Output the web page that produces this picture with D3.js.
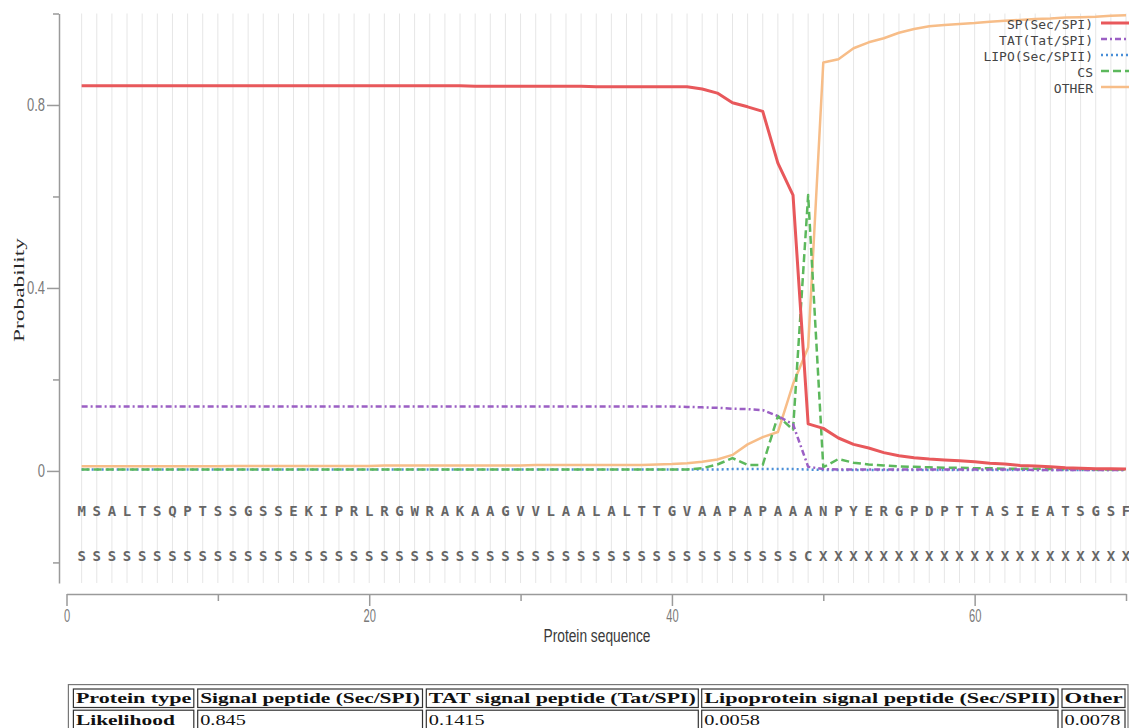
<!DOCTYPE html>
<html>
<head>
<meta charset="utf-8">
<script src="https://cdn.jsdelivr.net/npm/d3@7"></script>
<style>
  html, body { margin: 0; padding: 0; background: #fff; }
  svg { display: block; }
</style>
</head>
<body>
<svg id="chart" width="1129" height="728"></svg>
<script>
// ---------------- DATA ----------------
const sequence = "MSALTSQPTSSGSSEKIPRLRGWRAKAAGVVLAALALTTGVAAPAPAAANPYERGPDPTTASIEATSGSF".split("");
const prediction = ("SSSSSSSSSS" + "SSSSSSSSSS" + "SSSSSSSSSS" + "SSSSSSSSSS" +
                    "SSSSSSSSCX" + "XXXXXXXXXX" + "XXXXXXXXXX").split("");

const spValues = [
  0.842,0.842,0.842,0.842,0.842,0.842,0.842,0.842,0.842,0.842,
  0.842,0.842,0.842,0.842,0.842,0.842,0.842,0.842,0.842,0.842,
  0.842,0.842,0.842,0.842,0.842,0.842,0.841,0.841,0.841,0.841,
  0.841,0.841,0.841,0.841,0.840,0.840,0.840,0.840,0.840,0.840,
  0.840,0.835,0.826,0.805,0.796,0.786,0.673,0.603,0.103,0.093,
  0.072,0.058,0.050,0.040,0.033,0.029,0.026,0.024,0.022,0.020,
  0.017,0.015,0.012,0.011,0.009,0.007,0.006,0.005,0.005,0.004];

const tatValues = [
  0.141,0.141,0.141,0.141,0.141,0.141,0.141,0.141,0.141,0.141,
  0.141,0.141,0.141,0.141,0.141,0.141,0.141,0.141,0.141,0.141,
  0.141,0.141,0.141,0.141,0.141,0.141,0.141,0.141,0.141,0.141,
  0.141,0.141,0.141,0.141,0.141,0.141,0.141,0.141,0.141,0.141,
  0.140,0.139,0.138,0.136,0.135,0.133,0.120,0.102,0.009,0.004,
  0.003,0.003,0.003,0.003,0.003,0.003,0.003,0.003,0.003,0.003,
  0.003,0.003,0.003,0.002,0.002,0.002,0.002,0.002,0.002,0.002];

const lipoValues = [
  0.003,0.003,0.003,0.003,0.003,0.003,0.003,0.003,0.003,0.003,
  0.003,0.003,0.003,0.003,0.003,0.003,0.003,0.003,0.003,0.003,
  0.003,0.003,0.003,0.003,0.003,0.003,0.003,0.003,0.003,0.003,
  0.003,0.003,0.003,0.003,0.003,0.003,0.003,0.003,0.003,0.003,
  0.003,0.003,0.003,0.004,0.004,0.004,0.004,0.004,0.003,0.002,
  0.002,0.002,0.002,0.002,0.002,0.002,0.002,0.002,0.002,0.002,
  0.002,0.002,0.002,0.002,0.002,0.002,0.002,0.002,0.002,0.002];

const csValues = [
  0.003,0.003,0.003,0.003,0.003,0.003,0.003,0.003,0.003,0.003,
  0.003,0.003,0.003,0.003,0.003,0.003,0.003,0.003,0.003,0.003,
  0.003,0.003,0.003,0.003,0.003,0.003,0.003,0.003,0.003,0.003,
  0.003,0.003,0.003,0.003,0.003,0.003,0.003,0.003,0.003,0.003,
  0.003,0.006,0.014,0.028,0.013,0.013,0.120,0.090,0.603,0.008,
  0.026,0.018,0.014,0.012,0.010,0.009,0.008,0.007,0.007,0.006,
  0.006,0.005,0.005,0.005,0.004,0.004,0.004,0.003,0.003,0.003];

const otherValues = [
  0.010,0.010,0.010,0.010,0.010,0.010,0.010,0.010,0.010,0.010,
  0.011,0.011,0.011,0.011,0.011,0.011,0.011,0.011,0.011,0.011,
  0.012,0.012,0.012,0.012,0.012,0.012,0.012,0.012,0.012,0.012,
  0.013,0.013,0.013,0.013,0.013,0.013,0.013,0.013,0.014,0.015,
  0.017,0.020,0.025,0.035,0.058,0.074,0.085,0.190,0.270,0.893,
  0.900,0.924,0.937,0.946,0.958,0.966,0.972,0.975,0.977,0.979,
  0.982,0.984,0.986,0.988,0.989,0.991,0.992,0.993,0.995,0.996];

const seriesNames = ["SP(Sec/SPI)", "TAT(Tat/SPI)", "LIPO(Sec/SPII)", "CS", "OTHER"];

const xTicks = [0, 10, 20, 30, 40, 50, 60, 70];
const xTickLabels = ["0", "", "20", "", "40", "", "60", ""];
const yTicks = [-0.2, 0, 0.2, 0.4, 0.6, 0.8, 1.0];
const yTickLabels = ["", "0", "", "0.4", "", "0.8", ""];

const tableHeader = ["Protein type", "Signal peptide (Sec/SPI)", "TAT signal peptide (Tat/SPI)",
                     "Lipoprotein signal peptide (Sec/SPII)", "Other"];
const tableRow = ["Likelihood", "0.845", "0.1415", "0.0058", "0.0078"];

// ---------------- STYLES ----------------
const styles = [
  { values: spValues,    color: "#e8585b", width: 3,   dash: null },
  { values: tatValues,   color: "#9b5fc4", width: 2.5, dash: "6,3,2,3" },
  { values: lipoValues,  color: "#4a8fd8", width: 2.5, dash: "2,3" },
  { values: csValues,    color: "#5cb85c", width: 2.5, dash: "8,4" },
  { values: otherValues, color: "#f7bd88", width: 2.5, dash: null }
];
const drawOrder = [4, 2, 3, 1, 0];

// ---------------- SCALES ----------------
const svg = d3.select("#chart");
const x = d3.scaleLinear().domain([0, 70]).range([66.5, 1126]);
const y = d3.scaleLinear().domain([-0.245, 1.0]).range([583, 13.5]);

// grid lines at each residue
svg.append("g").selectAll("line")
  .data(sequence.map((d, i) => i + 1))
  .join("line")
  .attr("x1", d => x(d)).attr("x2", d => x(d))
  .attr("y1", y(1.0)).attr("y2", y(-0.245))
  .attr("stroke", "#e6e6e6").attr("stroke-width", 1);

// y axis
const yAxisG = svg.append("g").attr("transform", "translate(59,0)")
  .call(d3.axisLeft(y).tickValues(yTicks).tickSize(12).tickSizeOuter(0)
        .tickFormat((d, i) => yTickLabels[i]));
yAxisG.select(".domain").attr("stroke", "#9a9a9a").attr("stroke-width", 1.5);
yAxisG.selectAll(".tick line").attr("stroke", "#9a9a9a").attr("stroke-width", 1.5)
  .attr("x2", (d, i) => yTickLabels[i] ? -12 : -6);
yAxisG.selectAll(".tick text")
  .attr("font-family", "'Liberation Sans', Arial, sans-serif")
  .attr("font-size", 18).attr("fill", "#7a7a7a")
  .attr("x", -14 / 0.72)
  .attr("transform", "scale(0.72,1)");

// x axis
const xAxisG = svg.append("g").attr("transform", "translate(0,594)")
  .call(d3.axisBottom(x).tickValues(xTicks).tickSize(12).tickSizeOuter(0)
        .tickFormat((d, i) => xTickLabels[i]));
xAxisG.select(".domain").attr("stroke", "#9a9a9a").attr("stroke-width", 1.5);
xAxisG.selectAll(".tick line").attr("stroke", "#9a9a9a").attr("stroke-width", 1.5)
  .attr("y2", (d, i) => xTickLabels[i] ? 12 : 7);
xAxisG.selectAll(".tick text")
  .attr("font-family", "'Liberation Sans', Arial, sans-serif")
  .attr("font-size", 18).attr("fill", "#7a7a7a")
  .attr("y", 15).attr("dy", "0.71em")
  .attr("transform", "scale(0.62,1)");

// axis titles
svg.append("text")
  .attr("transform", "translate(24,290) rotate(-90) scale(1,0.66)")
  .attr("text-anchor", "middle")
  .attr("font-family", "'Liberation Serif', 'Times New Roman', serif")
  .attr("font-size", 22).attr("fill", "#2a2a2a")
  .attr("textLength", 104).attr("lengthAdjust", "spacingAndGlyphs")
  .text("Probability");

svg.append("text")
  .attr("x", 597).attr("y", 642)
  .attr("text-anchor", "middle")
  .attr("font-family", "'Liberation Sans', Arial, sans-serif")
  .attr("font-size", 18).attr("fill", "#3a3a3a")
  .attr("textLength", 107).attr("lengthAdjust", "spacingAndGlyphs")
  .text("Protein sequence");

// sequence rows
svg.append("g").selectAll("text")
  .data(sequence)
  .join("text")
  .attr("x", (d, i) => x(i + 1)).attr("y", y(-0.1) - 1)
  .attr("text-anchor", "middle")
  .attr("font-family", "'DejaVu Sans Mono', monospace")
  .attr("font-weight", "bold")
  .attr("font-size", 14).attr("fill", "#666")
  .text(d => d);

svg.append("g").selectAll("text")
  .data(prediction)
  .join("text")
  .attr("x", (d, i) => x(i + 1)).attr("y", y(-0.2) - 1)
  .attr("text-anchor", "middle")
  .attr("font-family", "'DejaVu Sans Mono', monospace")
  .attr("font-weight", "bold")
  .attr("font-size", 14).attr("fill", "#666")
  .text(d => d);

// lines
const line = d3.line().x((d, i) => x(i + 1)).y(d => y(d));
const linesG = svg.append("g");
drawOrder.forEach(k => {
  const s = styles[k];
  linesG.append("path")
    .datum(s.values)
    .attr("d", line)
    .attr("fill", "none")
    .attr("stroke", s.color)
    .attr("stroke-width", s.width)
    .attr("stroke-linejoin", "round")
    .attr("stroke-dasharray", s.dash);
});

// legend
const legend = svg.append("g");
seriesNames.forEach((name, i) => {
  const cy = 24 + i * 16;
  legend.append("text")
    .attr("x", 1093).attr("y", cy + 4.5)
    .attr("text-anchor", "end")
    .attr("font-family", "'DejaVu Sans Mono', monospace")
    .attr("font-size", 13).attr("fill", "#444")
    .text(name);
  legend.append("line")
    .attr("x1", 1101).attr("x2", 1129)
    .attr("y1", cy - 1).attr("y2", cy - 1)
    .attr("stroke", styles[i].color)
    .attr("stroke-width", styles[i].width)
    .attr("stroke-dasharray", styles[i].dash);
});

// table
const cols = [[73.4, 193.8], [197.7, 422.5], [426.3, 698.3], [701.7, 1058], [1062, 1125]];
const rows = [[689, 707.5], [710.2, 732]];
const tableG = svg.append("g");
tableG.append("rect")
  .attr("x", 68.4).attr("y", 684.6).attr("width", 1128 - 68.4).attr("height", 60)
  .attr("fill", "none").attr("stroke", "#777").attr("stroke-width", 1.2);
rows.forEach((r, ri) => {
  cols.forEach((c, ci) => {
    tableG.append("rect")
      .attr("x", c[0]).attr("y", r[0]).attr("width", c[1] - c[0]).attr("height", r[1] - r[0])
      .attr("fill", "none").attr("stroke", "#333").attr("stroke-width", 1.2);
  });
});
tableHeader.forEach((t, ci) => {
  tableG.append("text")
    .attr("x", cols[ci][0] + 2.5).attr("y", 702.5)
    .attr("font-family", "'Liberation Serif', 'Times New Roman', serif")
    .attr("font-weight", "bold").attr("font-size", 15).attr("fill", "#111")
    .attr("textLength", cols[ci][1] - cols[ci][0] - 5).attr("lengthAdjust", "spacingAndGlyphs")
    .text(t);
});
tableRow.forEach((t, ci) => {
  tableG.append("text")
    .attr("transform", `translate(${cols[ci][0] + 2.5},724.5) scale(${ci === 0 ? 1.43 : 1.4},1)`)
    .attr("font-family", "'Liberation Serif', 'Times New Roman', serif")
    .attr("font-weight", ci === 0 ? "bold" : "normal")
    .attr("font-size", ci === 0 ? 15 : 14.5).attr("fill", "#111")
    .text(t);
});
</script>
</body>
</html>
